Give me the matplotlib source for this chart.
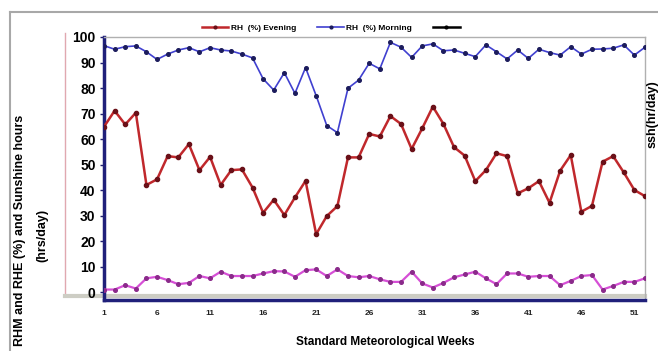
import matplotlib
matplotlib.use("Agg")
import matplotlib.pyplot as plt
from matplotlib.lines import Line2D

plt.rcParams['font.family'] = ['Liberation Sans', 'DejaVu Sans']

# Standard meteorological weeks 1..52
weeks = list(range(1, 53))

# RH (%) Morning
rh_morning = [96.6, 95.2, 96.2, 96.5, 94.2, 91.2, 93.3, 94.9, 95.8, 94.2,
              95.8, 94.9, 94.5, 93.3, 91.8, 83.6, 79.2, 86.0, 77.9, 88.0,
              77.0, 65.3, 62.5, 79.9, 83.1, 89.7, 87.5, 97.9, 96.0, 92.0,
              96.5, 97.3, 94.6, 94.9, 93.6, 92.3, 96.9, 94.2, 91.4, 94.9,
              91.6, 95.2, 93.9, 92.9, 96.2, 93.3, 95.2, 95.3, 95.6, 96.9,
              92.9, 96.0]

# RH (%) Evening
rh_evening = [64.8, 71.1, 65.7, 70.3, 42.0, 44.2, 53.3, 52.8, 58.0, 47.8,
              53.0, 42.0, 47.8, 48.1, 41.0, 31.1, 36.2, 30.2, 37.1, 43.6,
              22.7, 29.8, 33.7, 52.8, 52.8, 62.0, 61.0, 69.0, 65.9, 56.1,
              64.2, 72.7, 65.9, 56.8, 53.5, 43.5, 47.8, 54.4, 53.3, 38.7,
              40.7, 43.5, 35.0, 47.6, 53.7, 31.5, 33.8, 51.1, 53.3, 46.9,
              40.0, 37.6]

# Sunshine hours (hrs/day)
sunshine = [1.0, 1.0, 2.7, 1.4, 5.4, 6.0, 4.7, 3.1, 3.6, 6.3,
            5.4, 8.0, 6.3, 6.3, 6.3, 7.3, 8.2, 8.1, 6.0, 8.6,
            8.9, 6.3, 8.9, 6.3, 5.8, 6.3, 5.0, 4.0, 4.0, 8.0,
            3.4, 1.8, 3.6, 5.8, 6.9, 8.0, 5.4, 3.1, 7.3, 7.3,
            6.0, 6.3, 6.3, 2.7, 4.4, 6.3, 6.7, 1.0, 2.4, 4.0,
            4.0, 5.4]

xtick_vals = [1, 6, 11, 16, 21, 26, 31, 36, 41, 46, 51]
ytick_vals = list(range(0, 101, 10))

W, H = 658, 351
fig = plt.figure(figsize=(W / 100, H / 100), dpi=100)
fig.patch.set_facecolor('white')

def fx(px):
    return px / W

def fy(py):
    return 1 - py / H

# plot-area edges behind the axes
fig.add_artist(Line2D([fx(65), fx(65)], [fy(33), fy(296)], color='#e0a8b0', lw=1.0, zorder=0))
fig.add_artist(Line2D([fx(65), fx(645)], [fy(296), fy(296)], color='#cdcdc4', lw=3, zorder=0))

ax = fig.add_axes([fx(104), fy(300), fx(645) - fx(104), fy(37) - fy(300)])
ax.patch.set_alpha(0)

ax.plot(weeks, rh_evening, color='#c0282c', lw=1.8, marker='o', ms=3,
        mfc='#6a1018', mec='#6a1018', zorder=3)
ax.plot(weeks, rh_morning, color='#4040d0', lw=1.2, marker='o', ms=2.6,
        mfc='#1c1c5c', mec='#1c1c5c', zorder=3)
ax.plot(weeks, sunshine, color='#d64fd6', lw=1.6, marker='o', ms=2.6,
        mfc='#8a2a8a', mec='#8a2a8a', zorder=3)

ax.set_xlim(1, 52)
ax.set_ylim(-3.1, 100)
ax.set_xticks(xtick_vals)
ax.set_xticklabels([str(v) for v in xtick_vals], fontsize=6, fontweight='bold')
ax.set_yticks(ytick_vals)
ax.set_yticklabels([str(v) for v in ytick_vals], fontsize=10, fontweight='bold')
ax.tick_params(axis='x', length=0, pad=7, colors='#222222')
ax.tick_params(axis='y', length=3, width=1, pad=3, color='#202070')

for side in ['left', 'bottom']:
    ax.spines[side].set_color('#20207a')
    ax.spines[side].set_linewidth(2.5)
for side in ['top', 'right']:
    ax.spines[side].set_color('#b0b0b0')
    ax.spines[side].set_linewidth(1.0)

# outer chart frame
fig.add_artist(Line2D([fx(10), 1], [fy(12), fy(12)], color='#a8a8a8', lw=1.5))
fig.add_artist(Line2D([fx(10), fx(10)], [fy(12), 0], color='#a8a8a8', lw=1.5))

# axis labels
fig.text(fx(20), fy(230), 'RHM and RHE (%) and Sunshine hours', rotation=90,
         ha='center', va='center', fontsize=9, fontweight='bold')
fig.text(fx(42), fy(235), '(hrs/day)', rotation=90,
         ha='center', va='center', fontsize=9, fontweight='bold')
fig.text(fx(653), fy(114), 'ssh(hr/day)', rotation=90,
         ha='center', va='center', fontsize=9, fontweight='bold')
fig.text(fx(385), fy(342), 'Standard Meteorological Weeks',
         ha='center', va='center', fontsize=8.5, fontweight='bold')

# legend
handles = [
    Line2D([], [], color='#c0282c', lw=1.8, marker='o', ms=2, mfc='#6a1018', mec='#6a1018'),
    Line2D([], [], color='#4040d0', lw=1.2, marker='o', ms=2, mfc='#1c1c5c', mec='#1c1c5c'),
    Line2D([], [], color='black', lw=1.8, marker='o', ms=2),
]
labels = ['RH  (%) Evening', 'RH  (%) Morning', '']
fig.legend(handles, labels, loc='center', bbox_to_anchor=(fx(332), fy(28)),
           ncol=3, frameon=False, handlelength=3.2,
           columnspacing=2.5, handletextpad=0.3,
           prop={'weight': 'bold', 'size': 6})

fig.savefig('out.png', dpi=100)
